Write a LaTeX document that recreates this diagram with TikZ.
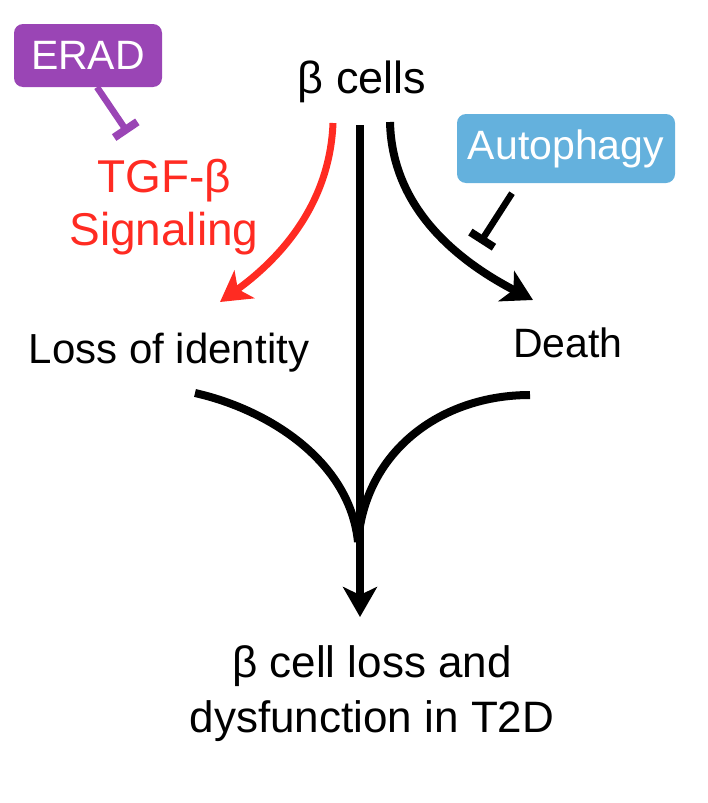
\documentclass[tikz,border=0pt]{standalone}
\usepackage{fontspec}
\setmainfont{Liberation Sans}
\usepackage{tikz}
\usetikzlibrary{positioning, arrows.meta}
\definecolor{eradpurple}{HTML}{9A45B5}
\definecolor{autoblue}{HTML}{64B1DD}
\definecolor{tgfred}{HTML}{FF2B22}

\tikzset{
  celltext/.style={font=\fontsize{#1}{54}\selectfont, inner sep=0pt},
  celltext/.default=42,
  pathbox/.style={celltext=41, text=white, rounded corners=9pt},
  fatearrow/.style={line width=8pt, -{Stealth[length=30pt, width=34pt, inset=8pt]}},
  mergeline/.style={line width=8pt},
  inhibit/.style={line width=6.5pt, -{Bar[width=28pt, line width=8pt]}}
}

\begin{document}
\begin{tikzpicture}[x=1pt, y=-1pt]
  \useasboundingbox (0,0) rectangle (708,803);

  % cell fates
  \node[celltext=45, anchor=base] (cells) at (362,93) {β cells};
  \node[celltext, anchor=base] (loss) at (169,363) {Loss of identity};
  \node[celltext=41, anchor=base] (death) at (568,357) {Death};
  \node[celltext, font=\fontsize{44}{55}\selectfont, anchor=base, align=center] (outcome)
    at (372,732) {β cell loss and\\dysfunction in T2D};

  % regulators
  \node[celltext, font=\fontsize{46}{53}\selectfont, text=tgfred, anchor=base, align=center] (tgf)
    at (164,245) {TGF-β\\Signaling};
  \node[pathbox, fill=eradpurple, minimum width=148pt, minimum height=63pt] (erad)
    at (88,55.5) {ERAD};
  \node[pathbox, fill=autoblue, minimum width=218pt, minimum height=69pt] (autoph)
    at (566,148.5) {Autophagy};
  \coordinate (deathblock) at (480,243);
  \coordinate (join) at (358,542);

  % arrows out of beta cells
  \draw[fatearrow, tgfred, line width=7pt] ([shift={(-29,30)}]cells.base)
    .. controls +(-3,77) and +(65,-47) .. ([shift={(51,-61)}]loss.base);
  \draw[fatearrow] ([shift={(28,29)}]cells.base)
    .. controls +(2,88) and +(-73,-38) .. ([shift={(-35,-57)}]death.base);
  \draw[fatearrow] ([shift={(-2,32)}]cells.base) -- ([shift={(-12,-115)}]outcome.base);

  % merging into the main arrow
  \draw[mergeline] ([shift={(26,30)}]loss.base) .. controls +(75,17) and +(-8,-80) .. (join);
  \draw[mergeline] ([shift={(-38,38)}]death.base) .. controls +(-90,0) and +(7,-90) .. (join);

  % inhibition
  \draw[inhibit, eradpurple] ([xshift=9pt]erad.south) -- ([shift={(-36,-112)}]tgf.base);
  \draw[inhibit] ([shift={(-54,10)}]autoph.south) -- (deathblock);
\end{tikzpicture}
\end{document}
